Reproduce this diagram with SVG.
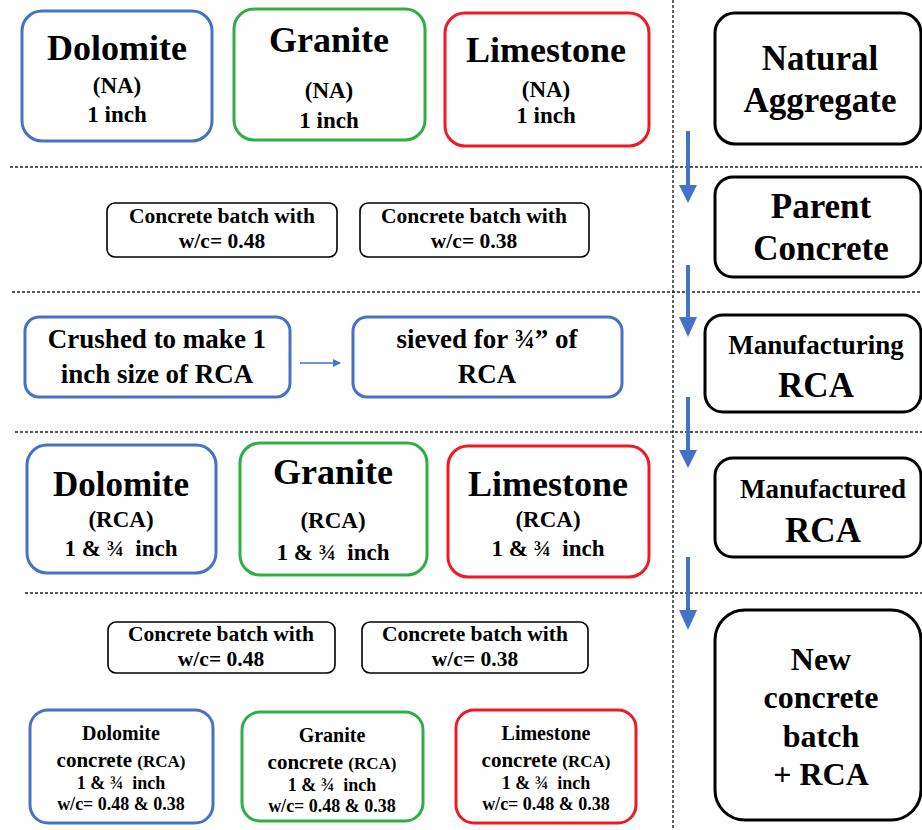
<svg xmlns="http://www.w3.org/2000/svg" width="922" height="830" viewBox="0 0 922 830">
<defs>
<style>
text{fill:#000;text-anchor:middle;font-weight:bold}
.b{fill:#fff;stroke:#4472C4;stroke-width:3}
.g{fill:#fff;stroke:#2EAE45;stroke-width:3}
.r{fill:#fff;stroke:#EE1B24;stroke-width:3}
.k{fill:#fff;stroke:#000;stroke-width:3}
.s{fill:#fff;stroke:#000;stroke-width:1.6}
.dash{stroke:#222;stroke-width:1.4;stroke-dasharray:3 2;fill:none}
.arr{stroke:#4472C4;stroke-width:4;fill:none}
.head{fill:#4472C4}
</style>
<marker id="ah" markerWidth="8" markerHeight="8" refX="7" refY="4" orient="auto" markerUnits="userSpaceOnUse">
<path d="M0,0 L8,4 L0,8 z" fill="#4472C4"/>
</marker>
</defs>

<g id="separators">
<line class="dash" x1="10" y1="167" x2="922" y2="167"/>
<line class="dash" x1="12" y1="292" x2="922" y2="292"/>
<line class="dash" x1="15" y1="432" x2="922" y2="432"/>
<line class="dash" x1="25" y1="593" x2="922" y2="593"/>
<line class="dash" x1="673" y1="0" x2="673" y2="830"/>
</g>

<g id="connectors">
<line class="arr" x1="688" y1="131" x2="688" y2="186"/>
<path class="head" d="M679,185 L697,185 L688,203 z"/>
<line class="arr" x1="688" y1="265" x2="688" y2="318"/>
<path class="head" d="M679,317 L697,317 L688,337 z"/>
<line class="arr" x1="688" y1="397" x2="688" y2="451"/>
<path class="head" d="M679,450 L697,450 L688,468 z"/>
<line class="arr" x1="688" y1="557" x2="688" y2="611"/>
<path class="head" d="M679,610 L697,610 L688,630 z"/>
<line x1="300" y1="363" x2="340" y2="363" stroke="#4472C4" stroke-width="1.6" marker-end="url(#ah)"/>
</g>

<g id="dolomite-na">
<rect class="b" x="22" y="11" width="190" height="130" rx="20"/>
<text font-family="'Liberation Serif', serif" font-size="36" x="117" y="60">Dolomite</text>
<text font-family="'Liberation Serif', serif" font-size="23" x="117" y="93">(NA)</text>
<text font-family="'Liberation Serif', serif" font-size="23" x="117" y="122">1 inch</text>
</g>
<g id="granite-na">
<rect class="g" x="234" y="9" width="191" height="131" rx="20"/>
<text font-family="'Liberation Serif', serif" font-size="36" x="329" y="52">Granite</text>
<text font-family="'Liberation Serif', serif" font-size="23" x="329" y="98">(NA)</text>
<text font-family="'Liberation Serif', serif" font-size="23" x="329" y="128">1 inch</text>
</g>
<g id="limestone-na">
<rect class="r" x="445" y="13" width="204" height="133" rx="20"/>
<text font-family="'Liberation Serif', serif" font-size="36" x="546" y="62">Limestone</text>
<text font-family="'Liberation Serif', serif" font-size="23" x="546" y="97">(NA)</text>
<text font-family="'Liberation Serif', serif" font-size="23" x="546" y="123">1 inch</text>
</g>
<g id="natural-aggregate">
<rect class="k" x="715" y="13" width="206" height="131" rx="20"/>
<text font-family="'Liberation Serif', serif" font-size="35" x="820" y="70">Natural</text>
<text font-family="'Liberation Serif', serif" font-size="35" x="820" y="112">Aggregate</text>
</g>

<g id="batch-048">
<rect class="s" x="107" y="203" width="230" height="54" rx="8"/>
<text font-family="'Liberation Serif', serif" font-size="21.5" x="222" y="223">Concrete batch with</text>
<text font-family="'Liberation Serif', serif" font-size="21.5" x="222" y="248">w/c= 0.48</text>
</g>
<g id="batch-038">
<rect class="s" x="360" y="203" width="229" height="54" rx="8"/>
<text font-family="'Liberation Serif', serif" font-size="21.5" x="474" y="223">Concrete batch with</text>
<text font-family="'Liberation Serif', serif" font-size="21.5" x="474" y="248">w/c= 0.38</text>
</g>
<g id="parent-concrete">
<rect class="k" x="715" y="177" width="206" height="100" rx="18"/>
<text font-family="'Liberation Serif', serif" font-size="35" x="821" y="218">Parent</text>
<text font-family="'Liberation Serif', serif" font-size="35" x="821" y="260">Concrete</text>
</g>

<g id="crushed">
<rect class="b" x="25" y="317" width="265" height="80" rx="14"/>
<text font-family="'Liberation Serif', serif" font-size="27" x="157" y="348">Crushed to make 1</text>
<text font-family="'Liberation Serif', serif" font-size="27" x="157" y="383">inch size of RCA</text>
</g>
<g id="sieved">
<rect class="b" x="353" y="317" width="269" height="80" rx="14"/>
<text font-family="'Liberation Serif', serif" font-size="27" x="487" y="348">sieved for ¾” of</text>
<text font-family="'Liberation Serif', serif" font-size="27" x="487" y="383">RCA</text>
</g>
<g id="manufacturing-rca">
<rect class="k" x="705" y="315" width="216" height="97" rx="18"/>
<text font-family="'Liberation Serif', serif" font-size="27" x="816" y="354">Manufacturing</text>
<text font-family="'Liberation Serif', serif" font-size="35" x="816" y="397">RCA</text>
</g>

<g id="dolomite-rca">
<rect class="b" x="27" y="445" width="189" height="128" rx="20"/>
<text font-family="'Liberation Serif', serif" font-size="35" x="121" y="496">Dolomite</text>
<text font-family="'Liberation Serif', serif" font-size="23" x="121" y="527">(RCA)</text>
<text font-family="'Liberation Serif', serif" font-size="23" x="121" y="556" xml:space="preserve">1 &amp; ¾  inch</text>
</g>
<g id="granite-rca">
<rect class="g" x="240" y="443" width="187" height="132" rx="20"/>
<text font-family="'Liberation Serif', serif" font-size="36" x="333" y="484">Granite</text>
<text font-family="'Liberation Serif', serif" font-size="23" x="333" y="528">(RCA)</text>
<text font-family="'Liberation Serif', serif" font-size="23" x="333" y="560" xml:space="preserve">1 &amp; ¾  inch</text>
</g>
<g id="limestone-rca">
<rect class="r" x="448" y="446" width="201" height="131" rx="20"/>
<text font-family="'Liberation Serif', serif" font-size="36" x="548" y="496">Limestone</text>
<text font-family="'Liberation Serif', serif" font-size="23" x="548" y="527">(RCA)</text>
<text font-family="'Liberation Serif', serif" font-size="23" x="548" y="556" xml:space="preserve">1 &amp; ¾  inch</text>
</g>
<g id="manufactured-rca">
<rect class="k" x="715" y="458" width="206" height="99" rx="18"/>
<text font-family="'Liberation Serif', serif" font-size="27" x="823" y="498">Manufactured</text>
<text font-family="'Liberation Serif', serif" font-size="35" x="823" y="542">RCA</text>
</g>

<g id="batch-048-rca">
<rect class="s" x="108" y="622" width="227" height="51" rx="8"/>
<text font-family="'Liberation Serif', serif" font-size="21.5" x="221" y="641">Concrete batch with</text>
<text font-family="'Liberation Serif', serif" font-size="21.5" x="221" y="666">w/c= 0.48</text>
</g>
<g id="batch-038-rca">
<rect class="s" x="362" y="622" width="226" height="51" rx="8"/>
<text font-family="'Liberation Serif', serif" font-size="21.5" x="475" y="641">Concrete batch with</text>
<text font-family="'Liberation Serif', serif" font-size="21.5" x="475" y="666">w/c= 0.38</text>
</g>

<g id="dolomite-concrete">
<rect class="b" x="30" y="710" width="183" height="113" rx="18"/>
<text font-family="'Liberation Serif', serif" font-size="20" x="121" y="740">Dolomite</text>
<text font-family="'Liberation Serif', serif" font-size="21" x="121" y="767">concrete <tspan font-size="17">(RCA)</tspan></text>
<text font-family="'Liberation Serif', serif" font-size="18" x="121" y="789" xml:space="preserve">1 &amp; ¾  inch</text>
<text font-family="'Liberation Serif', serif" font-size="18" x="121" y="810">w/c= 0.48 &amp; 0.38</text>
</g>
<g id="granite-concrete">
<rect class="g" x="242" y="712" width="181" height="109" rx="18"/>
<text font-family="'Liberation Serif', serif" font-size="20" x="332" y="742">Granite</text>
<text font-family="'Liberation Serif', serif" font-size="21" x="332" y="769">concrete <tspan font-size="17">(RCA)</tspan></text>
<text font-family="'Liberation Serif', serif" font-size="18" x="332" y="791" xml:space="preserve">1 &amp; ¾  inch</text>
<text font-family="'Liberation Serif', serif" font-size="18" x="332" y="812">w/c= 0.48 &amp; 0.38</text>
</g>
<g id="limestone-concrete">
<rect class="r" x="456" y="710" width="180" height="113" rx="18"/>
<text font-family="'Liberation Serif', serif" font-size="20" x="546" y="740">Limestone</text>
<text font-family="'Liberation Serif', serif" font-size="21" x="546" y="767">concrete <tspan font-size="17">(RCA)</tspan></text>
<text font-family="'Liberation Serif', serif" font-size="18" x="546" y="789" xml:space="preserve">1 &amp; ¾  inch</text>
<text font-family="'Liberation Serif', serif" font-size="18" x="546" y="810">w/c= 0.48 &amp; 0.38</text>
</g>
<g id="new-concrete-batch">
<rect class="k" x="715" y="610" width="206" height="210" rx="30"/>
<text font-family="'Liberation Serif', serif" font-size="32" x="821" y="670">New</text>
<text font-family="'Liberation Serif', serif" font-size="32" x="821" y="708">concrete</text>
<text font-family="'Liberation Serif', serif" font-size="32" x="821" y="747">batch</text>
<text font-family="'Liberation Serif', serif" font-size="32" x="821" y="785">+ RCA</text>
</g>
</svg>
